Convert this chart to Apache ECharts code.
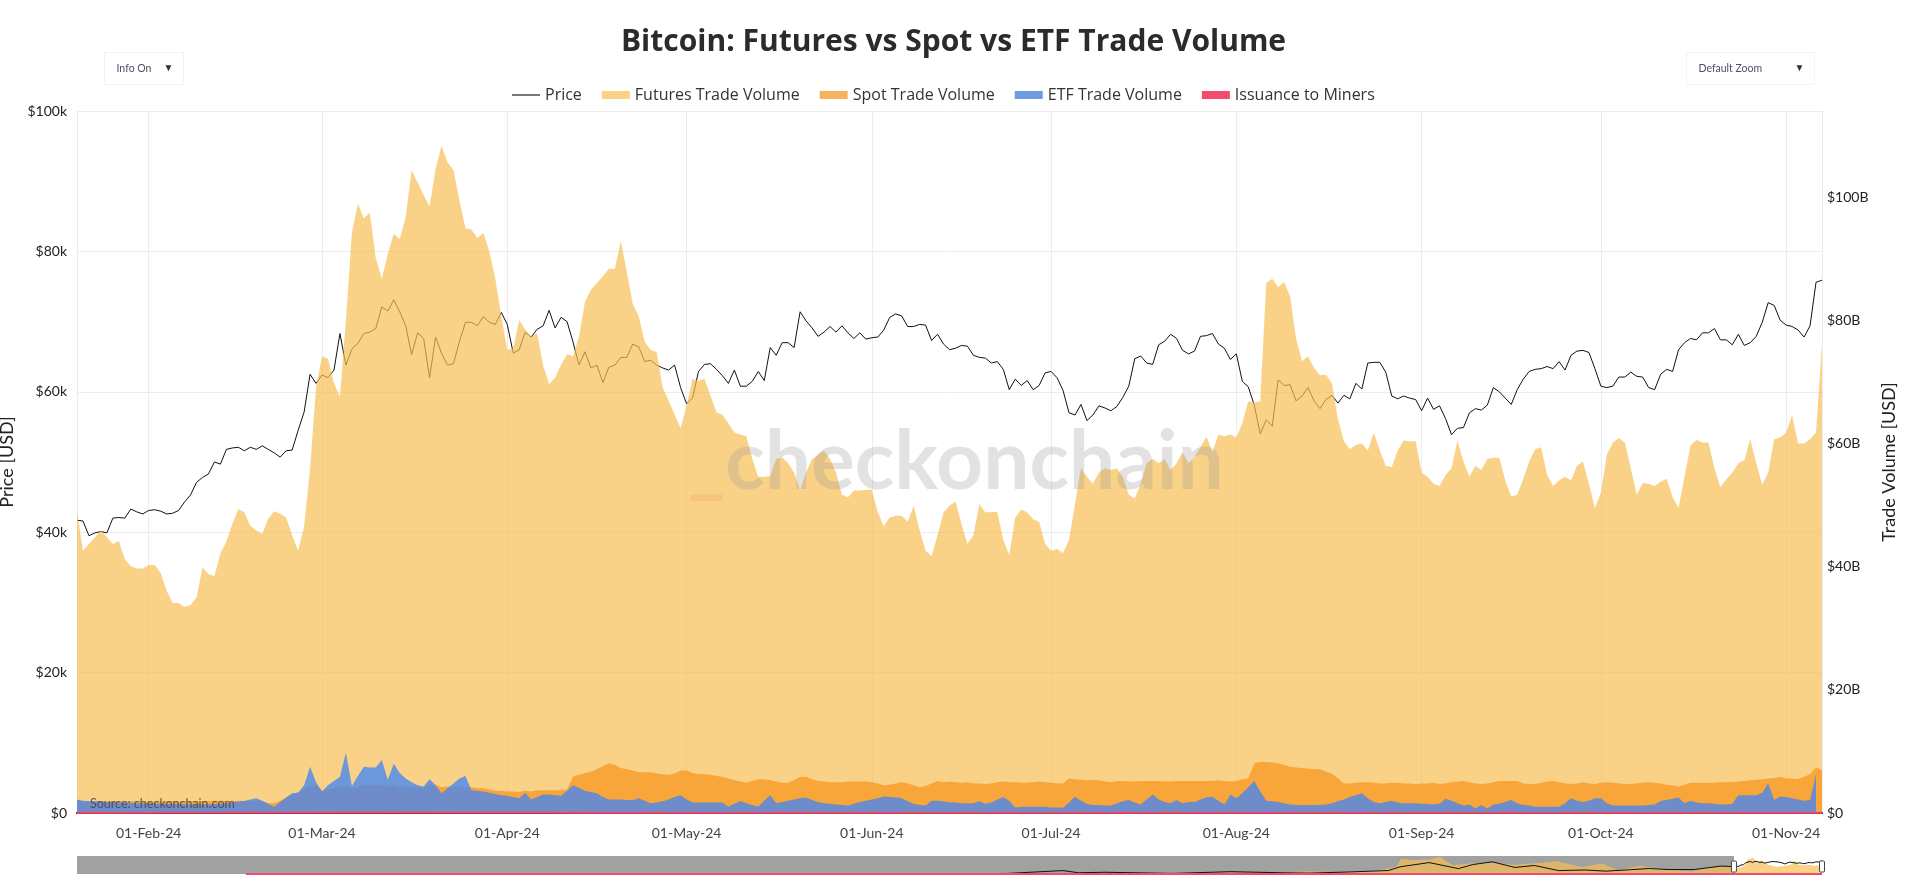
<!DOCTYPE html>
<html><head><meta charset="utf-8">
<script src="https://cdn.jsdelivr.net/npm/echarts@6/dist/echarts.min.js"></script>
<style>html,body{margin:0;padding:0;background:#fff}#c{width:1907px;height:893px}</style>
</head><body><div id="c"></div>
<script>
// ---------------- DATA ----------------
// daily points from 2024-01-20 to 2024-11-07
const START_DATE = '2024-01-20';
// Price, thousand USD
const price = [
41.7,41.6,39.5,39.9,40.1,39.9,42.0,42.1,42.0,43.3,42.9,42.6,
43.1,43.2,43.0,42.6,42.7,43.1,44.3,45.3,47.1,47.8,48.3,50.0,49.7,51.8,52.0,52.1,51.6,52.1,51.8,52.3,51.8,51.3,50.7,51.6,51.7,54.5,57.1,62.5,61.2,
62.4,62.0,63.1,68.3,63.8,66.1,66.9,68.3,68.5,69.0,72.1,71.5,73.1,71.4,69.4,65.3,68.4,67.6,62.0,67.8,65.5,63.8,64.0,67.2,69.9,69.9,69.4,70.7,69.9,69.6,71.3,
69.6,65.5,66.0,68.5,67.8,68.9,69.4,71.6,69.1,70.6,70.0,67.1,63.8,65.7,63.4,63.8,61.3,63.5,63.8,64.9,64.9,66.8,66.4,64.3,64.5,63.8,63.4,63.1,63.8,60.6,
58.3,59.1,62.9,63.9,64.0,63.2,62.3,61.2,63.1,60.8,60.8,61.5,62.9,61.6,66.3,65.2,67.0,67.0,66.3,71.4,70.1,69.1,67.9,68.5,69.3,68.5,69.4,68.4,67.6,68.4,67.5,
67.7,67.8,68.8,70.6,71.1,70.8,69.3,69.3,69.6,69.5,67.3,68.2,66.8,66.0,66.2,66.6,66.5,65.2,64.9,64.8,64.1,64.3,63.2,60.3,61.8,60.9,61.6,60.3,60.9,62.7,
62.9,62.0,60.2,57.0,56.7,58.2,55.9,56.7,58.0,57.7,57.3,57.9,59.2,60.8,64.7,65.1,64.1,63.9,66.7,67.2,68.2,67.6,65.9,65.4,65.8,67.9,68.0,68.3,66.8,66.2,64.6,
65.4,61.5,60.7,58.1,54.0,56.0,55.1,61.7,60.9,61.0,58.7,59.4,60.6,58.7,57.6,58.9,59.5,58.4,59.5,59.0,61.2,60.4,64.1,64.2,64.2,62.8,59.4,59.0,59.4,59.1,58.9,
57.3,59.1,57.5,58.0,56.2,53.9,54.8,54.9,57.0,57.6,57.4,58.1,60.6,60.0,59.1,58.2,60.3,61.8,62.9,63.2,63.3,63.6,63.3,64.3,63.1,65.2,65.8,65.9,65.6,63.3,
60.8,60.6,60.8,62.1,62.1,62.8,62.2,62.1,60.6,60.3,62.5,63.2,62.9,66.0,67.0,67.6,67.4,68.4,68.4,69.0,67.4,67.4,66.7,68.2,66.6,67.0,67.9,69.9,72.7,72.3,70.2,
69.5,69.3,68.8,67.8,69.4,75.6,75.9
];
// Futures trade volume, billion USD
const futures = [
48.9,42.6,43.7,44.8,45.9,44.8,43.7,44.2,41.2,40.1,
39.7,39.7,40.3,40.3,39.0,36.1,34.1,34.1,33.5,33.8,
35.0,39.9,38.8,38.5,42.2,44.1,47.0,49.4,48.8,46.6,
45.9,45.3,47.8,49.0,48.6,48.0,45.1,42.6,46.5,56.0,
69.1,74.2,73.8,69.8,67.6,80.0,94.2,99.0,96.6,97.5,
90.1,86.8,90.8,94.1,93.2,96.8,104.4,102.4,100.4,98.5,
104.6,108.4,105.7,104.4,99.5,95.0,94.8,93.4,94.2,91.2,
86.8,80.7,75.2,75.5,80.1,78.5,77.4,77.9,72.7,69.7,
70.7,72.8,74.5,74.2,77.4,83.0,85.0,86.1,87.2,88.4,
88.4,92.9,87.9,82.7,80.7,76.5,75.2,74.9,69.1,67.0,
64.7,62.5,66.2,70.5,70.2,70.5,67.8,65.1,64.7,63.3,
61.8,61.5,61.2,57.5,54.6,54.6,54.7,57.5,57.8,56.8,
55.3,52.4,55.3,57.5,58.1,58.9,57.5,55.3,51.7,51.3,
52.4,52.4,52.5,52.5,48.8,46.6,48.0,48.3,48.3,47.3,
49.9,45.9,42.6,41.7,45.1,48.8,49.9,50.6,47.0,43.7,
45.1,50.2,48.8,48.9,48.9,44.4,41.9,48.0,49.3,48.8,
47.7,47.3,43.7,42.6,42.9,42.2,44.4,50.2,56.0,54.6,
53.5,55.3,56.0,55.7,56.0,54.6,51.7,51.1,53.5,56.8,
57.5,56.8,57.5,55.7,56.8,58.6,56.8,57.8,59.5,61.1,
58.6,61.5,61.2,61.5,61.0,63.3,66.9,66.7,66.9,86.1,
86.8,85.4,86.3,83.9,77.0,73.4,74.2,72.3,71.1,71.2,
69.8,64.0,60.4,59.1,59.8,60.0,58.9,61.8,58.9,56.4,
56.2,58.9,60.5,60.4,60.4,55.3,54.6,53.5,53.1,54.9,
56.0,60.5,57.1,54.6,56.4,55.7,57.5,57.7,57.7,54.0,
51.4,51.7,54.2,57.1,59.1,59.4,54.9,53.1,54.0,54.6,
54.0,56.4,57.1,53.5,49.5,52.0,58.2,60.2,60.9,60.2,
56.0,51.7,53.6,53.5,53.1,53.8,54.3,51.3,49.6,54.6,
59.7,60.6,60.2,60.2,56.0,52.9,54.2,55.3,56.8,57.3,
60.7,56.8,53.3,55.3,60.7,61.0,61.8,64.6,60.0,60.0,
60.7,61.8,76.3
];
// Spot trade volume, billion USD
const spot = [
2.0,1.9,1.9,1.9,1.9,1.9,1.9,1.9,1.9,1.9,
1.9,1.9,1.9,1.9,1.9,1.9,1.9,1.9,1.9,1.9,
1.9,1.9,1.9,2.0,2.0,2.0,2.0,2.0,2.0,2.0,
2.0,1.9,1.6,1.57,2.0,2.5,3.0,3.4,3.8,4.4,
4.5,3.6,3.8,4.0,4.2,4.5,4.0,4.2,4.5,4.6,
4.6,4.5,4.3,4.5,4.2,4.3,4.2,4.2,4.0,4.6,
4.6,4.2,4.3,4.2,4.3,4.2,4.2,4.0,4.0,3.8,
3.6,3.6,3.5,3.5,3.4,3.6,3.5,3.7,3.7,3.7,
3.7,3.7,3.8,5.9,6.2,6.5,6.7,7.1,7.6,8.1,
7.8,7.3,7.1,6.9,6.6,6.6,6.6,6.4,6.3,6.2,
6.4,6.9,6.9,6.5,6.3,6.3,6.2,6.0,5.9,5.6,
5.3,5.1,4.9,5.2,5.5,5.5,5.3,5.1,4.9,4.9,
5.3,5.9,5.9,5.5,5.2,5.1,5.0,5.0,5.0,5.1,
5.1,5.1,5.1,5.0,4.8,4.5,4.6,4.8,5.0,4.8,
4.5,4.2,4.4,4.8,5.2,5.0,5.1,5.0,4.9,5.0,
4.8,4.8,4.7,4.8,5.0,5.1,5.0,5.0,4.9,4.9,
5.0,5.1,5.0,4.9,4.8,4.8,5.6,5.5,5.4,5.3,
5.4,5.3,5.1,5.0,5.2,5.2,5.1,5.1,5.2,5.2,
5.2,5.2,5.1,5.1,5.2,5.2,5.2,5.2,5.2,5.2,
5.2,5.3,5.2,5.1,5.2,5.5,5.6,8.1,8.3,8.3,
8.2,8.1,7.8,7.5,7.4,7.3,7.2,7.1,7.1,6.7,
6.4,5.6,4.8,4.8,4.9,5.0,5.0,4.9,4.8,4.8,
4.9,4.9,4.8,4.8,4.7,4.8,4.8,4.9,4.7,4.8,
5.0,5.1,5.2,5.0,4.8,4.7,4.8,5.0,5.2,5.2,
5.2,5.2,4.8,4.7,4.7,4.9,5.1,5.2,5.0,4.8,
4.7,4.8,5.0,4.8,4.7,4.9,5.0,4.9,4.8,4.7,
4.7,4.8,4.9,5.0,4.9,4.8,4.6,4.5,4.3,4.6,
4.9,4.9,4.9,4.9,4.9,5.0,5.0,5.0,5.1,5.2,
5.3,5.4,5.5,5.6,5.7,5.9,5.6,5.6,5.5,5.9,
6.3,7.4,6.9
];
// ETF trade volume, billion USD
const etf = [
2.2,2.0,1.9,1.9,1.85,1.8,1.75,1.7,1.7,1.65,
1.6,1.6,1.57,1.55,1.5,1.5,1.46,1.45,1.43,1.42,
1.41,1.41,1.42,1.45,1.5,1.57,1.7,1.85,1.95,2.2,
2.4,2.0,1.5,1.03,1.8,2.5,3.2,3.3,4.5,7.5,
5.0,3.5,4.5,5.2,5.9,9.8,4.4,6.0,7.5,7.4,
7.4,8.6,5.4,8.0,6.5,5.6,5.0,4.5,4.3,5.5,
4.5,3.2,4.0,4.8,5.6,6.0,3.7,3.6,3.5,3.3,
3.1,2.9,2.8,2.6,2.4,3.3,2.2,2.6,3.0,3.0,
2.9,2.8,3.6,4.5,4.1,3.6,3.4,3.2,2.6,2.2,
2.2,2.2,2.1,2.1,2.4,2.0,1.6,1.7,1.9,2.2,
2.6,2.9,2.2,1.7,1.7,1.7,1.7,1.7,1.7,1.0,
1.5,1.95,1.6,1.3,1.0,2.0,2.9,1.6,1.8,2.0,
2.2,2.4,2.5,2.1,1.8,1.6,1.5,1.4,1.3,1.2,
1.5,1.8,2.0,2.2,2.4,2.7,2.6,2.5,2.4,1.9,
1.5,1.3,1.2,2.0,2.0,1.9,1.7,1.7,1.6,1.57,
1.6,1.9,1.5,1.7,2.2,2.6,2.0,0.9,1.0,1.0,
1.0,1.0,1.0,0.9,0.9,0.85,1.7,2.65,2.0,1.5,
1.3,1.3,1.2,1.2,1.6,1.9,2.1,1.7,1.4,2.2,
3.0,2.2,1.8,1.6,2.1,1.6,1.8,1.8,2.2,2.5,
2.65,2.0,1.4,3.0,2.4,3.2,4.2,5.2,3.5,2.0,
1.9,1.8,1.6,1.4,1.3,1.3,1.3,1.3,1.3,1.4,
1.6,1.9,2.2,2.6,2.9,3.2,2.4,1.8,1.6,1.8,
2.0,1.7,1.6,1.6,1.6,1.5,1.5,1.4,1.5,2.3,
2.0,1.6,1.2,1.4,0.75,1.3,0.75,1.4,1.5,1.8,
2.1,1.6,1.3,1.2,1.0,1.0,1.0,1.0,1.0,1.6,
2.4,2.0,1.8,2.0,2.4,2.4,1.6,1.2,1.2,1.2,
1.2,1.2,1.2,1.3,1.4,1.95,2.1,2.3,2.5,1.6,
2.0,1.7,1.6,1.6,1.5,1.4,1.4,1.5,2.9,2.9,
2.9,2.9,3.3,4.8,2.1,2.7,2.6,2.4,2.2,2.0,
2.1,6.3,null
];
// Issuance to miners, billion USD (tiny at this scale)
const issuanceDates = ['2024-01-20','2024-03-13','2024-04-19','2024-04-20','2024-07-01','2024-11-07'];
const issuanceVals  = [0.04,0.07,0.06,0.03,0.03,0.03];

// Range-slider history (coarse readings of the mini chart)
const SLIDER_START = '2009-01-03';
const histPriceDates = ['2010-07-17','2013-04-10','2013-12-04','2015-01-14','2016-06-17','2017-01-04','2017-06-12','2017-12-17','2018-02-06','2018-05-05','2018-12-15','2019-06-26','2019-12-17','2020-03-12','2020-08-01','2020-11-30','2021-01-08','2021-04-14','2021-07-20','2021-09-06','2021-11-10','2022-01-24','2022-03-29','2022-06-18','2022-09-12','2022-11-21','2023-02-15','2023-04-14','2023-06-15','2023-09-11','2023-12-08','2024-01-19'];
const histPrice = [0.07,0.2,1.1,0.2,0.75,1.1,2.9,19.0,6.9,9.8,3.2,13.0,6.6,4.9,11.8,19.4,40.0,63.5,29.8,52.6,67.6,36.3,47.4,19.0,22.4,15.8,24.3,30.5,25.0,25.0,44.0,41.6];
const histFutDates = ['2019-06-01','2019-12-01','2020-03-12','2020-07-01','2020-10-25','2020-12-25','2021-01-11','2021-02-22','2021-04-18','2021-05-19','2021-07-01','2021-09-07','2021-11-10','2022-01-22','2022-05-12','2022-06-14','2022-09-01','2022-11-09','2023-01-01','2023-03-15','2023-06-01','2023-09-01','2023-10-25','2023-12-06','2024-01-12','2024-01-19'];
const histFut = [8,7,18,10,22,45,95,88,92,110,55,68,72,58,75,80,44,66,24,52,28,16,40,46,55,45];
const histIssDates = ['2010-07-17','2017-12-17','2021-04-14','2024-01-19'];
const histIssVals = [0.0005,0.03,0.06,0.04];

const MONTHS = ['Jan','Feb','Mar','Apr','May','Jun','Jul','Aug','Sep','Oct','Nov','Dec'];
const PRICE_AXIS = {min:0, max:100, interval:20};     // thousand USD
const VOL_AXIS = {min:0, max:114.03, interval:20};    // billion USD

// ---------------- BUILD ----------------
const pad = n => (n < 10 ? '0' : '') + n;
const DAY = 86400000;
const t0 = new Date(START_DATE + 'T00:00:00').getTime();
const dates = price.map((_, i) => {
  const d = new Date(t0 + i * DAY + 3 * 3600000);
  return d.getFullYear() + '-' + pad(d.getMonth() + 1) + '-' + pad(d.getDate());
});
const ts = s => new Date(s + 'T00:00:00').getTime();
const pair = arr => dates.map((d, i) => [d, arr[i]]);
const zip = (ds, vs) => ds.map((d, i) => [d, vs[i]]);

const FONT = 'Lato, "Open Sans", sans-serif';
const TFONT = '"Open Sans", Lato, sans-serif';
const C_FUT = 'rgba(248,191,84,0.70)';
const C_SPOT = 'rgba(247,147,26,0.71)';
const C_ETF = 'rgba(66,133,244,0.77)';
const C_ISS = '#f5496e';

const chart = echarts.init(document.getElementById('c'), null, {renderer: 'canvas'});

function dropdown(id, x, w, label) {
  return {
    type: 'group', id: id, left: x, top: 52,
    children: [
      {type: 'rect', shape: {x: 0, y: 0, width: w, height: 32}, style: {fill: '#fff', stroke: '#f3f3f3', lineWidth: 1}},
      {type: 'text', x: 12, y: 16, style: {text: label, font: '10.5px ' + FONT, fill: '#4a4f6a', verticalAlign: 'middle'}},
      {type: 'text', x: w - 10, y: 16, style: {text: '\u25BC', font: '10px sans-serif', fill: '#333', align: 'right', verticalAlign: 'middle'}}
    ]
  };
}

const option = {
  animation: false,
  backgroundColor: '#fff',
  textStyle: {fontFamily: FONT},
  title: {
    text: 'Bitcoin: Futures vs Spot vs ETF Trade Volume',
    left: 'center', top: 22,
    textStyle: {fontSize: 30, fontWeight: 'bold', color: '#2b2b2b', fontFamily: TFONT}
  },
  legend: {
    top: 82, left: 507,
    itemWidth: 28, itemHeight: 8, itemGap: 20,
    textStyle: {fontSize: 16, color: '#333', fontFamily: TFONT},
    data: [
      {name: 'Price', icon: 'path://M0,0 M28,8 M0,3.2 L28,3.2 L28,4.8 L0,4.8 Z', itemStyle: {color: '#555'}},
      {name: 'Futures Trade Volume', icon: 'rect', itemStyle: {color: '#fad287'}},
      {name: 'Spot Trade Volume', icon: 'rect', itemStyle: {color: '#f5b45c'}},
      {name: 'ETF Trade Volume', icon: 'rect', itemStyle: {color: '#6f9be0'}},
      {name: 'Issuance to Miners', icon: 'rect', itemStyle: {color: C_ISS}}
    ]
  },
  grid: [
    {left: 77, right: 85, top: 111, bottom: 80, outerBoundsMode: 'none', containLabel: false},
    {left: 77, right: 85, top: 856, height: 18, outerBoundsMode: 'none', containLabel: false}
  ],
  xAxis: [
    {
      type: 'time', gridIndex: 0,
      min: ts(dates[0]), max: ts(dates[dates.length - 1]),
      minInterval: 28 * DAY, maxInterval: 31 * DAY,
      axisLine: {show: true, lineStyle: {color: '#222', width: 2}},
      axisTick: {show: false},
      splitLine: {show: true, lineStyle: {color: '#ececec', width: 1}},
      axisLabel: {
        margin: 13, fontSize: 14, color: '#444', fontFamily: FONT,
        formatter: v => { const d = new Date(v); return pad(d.getDate()) + '-' + MONTHS[d.getMonth()] + '-' + String(d.getFullYear()).slice(2); }
      }
    },
    {
      type: 'time', gridIndex: 1, show: false,
      min: ts(SLIDER_START), max: ts(dates[dates.length - 1])
    }
  ],
  yAxis: [
    {
      type: 'value', gridIndex: 0, position: 'left',
      min: PRICE_AXIS.min, max: PRICE_AXIS.max, interval: PRICE_AXIS.interval,
      name: 'Price [USD]', nameLocation: 'middle', nameGap: 54,
      nameTextStyle: {fontSize: 18, color: '#222', fontFamily: FONT},
      axisLine: {show: false}, axisTick: {show: false},
      splitLine: {show: true, lineStyle: {color: '#ececec'}},
      axisLabel: {margin: 10, fontSize: 14, color: '#222', fontFamily: FONT, formatter: v => v === 0 ? '$0' : '$' + v + 'k'}
    },
    {
      type: 'value', gridIndex: 0, position: 'right',
      min: VOL_AXIS.min, max: VOL_AXIS.max, interval: VOL_AXIS.interval,
      name: 'Trade Volume [USD]', nameLocation: 'middle', nameGap: 58,
      nameTextStyle: {fontSize: 18, color: '#222', fontFamily: FONT},
      axisLine: {show: false}, axisTick: {show: false}, splitLine: {show: false},
      axisLabel: {margin: 5, fontSize: 14, color: '#222', fontFamily: FONT, showMaxLabel: false,
        formatter: v => v === 0 ? '$0' : '$' + Math.round(v) + 'B'}
    },
    {type: 'value', gridIndex: 1, show: false, min: PRICE_AXIS.min, max: PRICE_AXIS.max},
    {type: 'value', gridIndex: 1, show: false, min: VOL_AXIS.min, max: VOL_AXIS.max}
  ],
  series: [
    {name: 'Price', type: 'line', xAxisIndex: 0, yAxisIndex: 0, data: pair(price), symbol: 'none',
      lineStyle: {color: '#111', width: 1}, itemStyle: {color: '#111'}, z: 2},
    {name: 'Futures Trade Volume', type: 'line', xAxisIndex: 0, yAxisIndex: 1, data: pair(futures), symbol: 'none',
      lineStyle: {width: 0}, areaStyle: {color: C_FUT, opacity: 1}, itemStyle: {color: C_FUT}, z: 3},
    {name: 'Spot Trade Volume', type: 'line', xAxisIndex: 0, yAxisIndex: 1, data: pair(spot), symbol: 'none',
      lineStyle: {width: 0}, areaStyle: {color: C_SPOT, opacity: 1}, itemStyle: {color: C_SPOT}, z: 4},
    {name: 'ETF Trade Volume', type: 'line', xAxisIndex: 0, yAxisIndex: 1, data: pair(etf), symbol: 'none',
      lineStyle: {width: 0}, areaStyle: {color: C_ETF, opacity: 1}, itemStyle: {color: C_ETF}, z: 5},
    {name: 'Issuance to Miners', type: 'line', xAxisIndex: 0, yAxisIndex: 1, data: zip(issuanceDates, issuanceVals), symbol: 'none',
      lineStyle: {color: C_ISS, width: 2}, itemStyle: {color: C_ISS}, z: 6},
    // ---- range slider mini chart ----
    {name: 'sl-fut', type: 'line', xAxisIndex: 1, yAxisIndex: 3, symbol: 'none', silent: true,
      data: zip(histFutDates, histFut).concat(pair(futures)),
      lineStyle: {width: 0}, areaStyle: {color: C_FUT, opacity: 1}, z: 3},
    {name: 'sl-price', type: 'line', xAxisIndex: 1, yAxisIndex: 2, symbol: 'none', silent: true,
      data: zip(histPriceDates, histPrice).concat(pair(price)),
      lineStyle: {color: '#111', width: 1}, z: 4},
    {name: 'sl-iss', type: 'line', xAxisIndex: 1, yAxisIndex: 3, symbol: 'none', silent: true,
      data: zip(histIssDates, histIssVals).concat(zip(issuanceDates, issuanceVals)),
      lineStyle: {color: C_ISS, width: 2}, z: 5,
      markArea: {silent: true, itemStyle: {color: 'rgba(0,0,0,0.37)'},
        data: [[{xAxis: ts(SLIDER_START)}, {xAxis: ts(dates[0])}]]}
    }
  ],
  graphic: [
    dropdown('dd1', 104, 79, 'Info On'),
    dropdown('dd2', 1686, 128, 'Default Zoom'),
    {type: 'text', id: 'wm', left: 687, top: 422, z: 50, silent: true,
      style: {text: '{u|_}{t|checkonchain}', rich: {
        u: {font: 'bold 82px ' + FONT, fill: 'rgba(235,170,90,0.30)'},
        t: {font: 'bold 82px ' + FONT, fill: 'rgba(150,150,150,0.28)'}}}},
    {type: 'text', id: 'src', left: 90, top: 797, z: 50, silent: true,
      style: {text: 'Source: checkonchain.com', font: '12.5px ' + FONT, fill: 'rgba(70,70,70,0.85)'}}
  ]
};

chart.setOption(option);

// range-slider handles at the ends of the visible window
const hx0 = chart.convertToPixel({xAxisIndex: 1}, ts(dates[0]));
const hx1 = chart.convertToPixel({xAxisIndex: 1}, ts(dates[dates.length - 1]));
const handle = (id, x) => ({type: 'rect', id: id, z: 60, silent: true,
  shape: {x: x - 2.5, y: 861, width: 5, height: 11, r: 1},
  style: {fill: '#fff', stroke: '#444', lineWidth: 1}});
chart.setOption({graphic: [handle('h0', hx0), handle('h1', hx1)]});
</script>
</body></html>
